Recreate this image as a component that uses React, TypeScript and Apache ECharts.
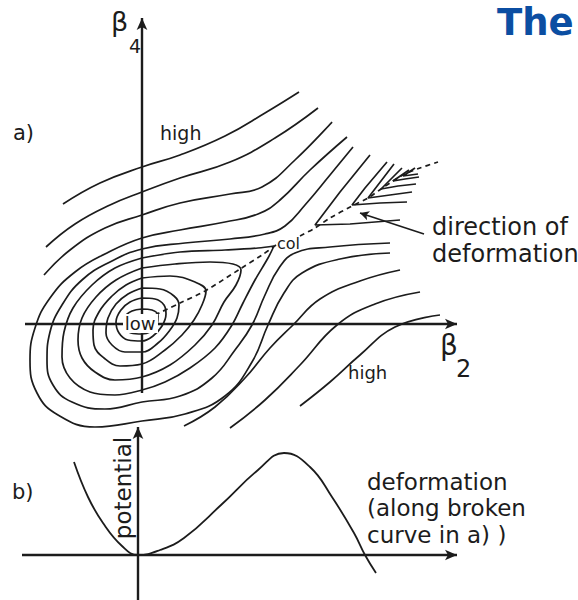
import { useEffect, useRef } from 'react';
import * as echarts from 'echarts';

type Pt = [number, number];

const INK = '#1c1c1c';
const TITLE_BLUE = '#0b4ea2';
const FONT = 'DejaVu Sans, Liberation Sans, sans-serif';

// ---------- panel a: potential-energy surface in the (β2, β4) plane ----------
// Axis extents (β2 along x, β4 along y)
const beta2AxisRange: Pt = [-11.7, 31.5];
const beta4AxisRange: Pt = [-6.9, 30.6];

// Contours on the high (upper-left) side of the valley
const contourA1: Pt[] = [[-7.9, 12.0], [-4.2, 14.1], [0, 15.7], [3.8, 16.9], [8.3, 18.8], [12.3, 21.1], [15.7, 23.2]];
const contourA2: Pt[] = [[-9.6, 7.7], [-6.7, 10.0], [-3.2, 11.9], [0, 13.2], [3.8, 14.6], [8.8, 16.2], [13.3, 18.6], [17.6, 21.6]];
const contourA3: Pt[] = [[-9.8, 4.9], [-7.2, 7.4], [-3.7, 9.6], [0, 10.9], [3.8, 12.1], [8.8, 13.0], [12.0, 13.7], [15.3, 16.4], [19.0, 20.2]];

// Open contours above the col level, wrapping round the minimum
const contourU1: Pt[] = [
  [20.5, 18.7], [16.8, 15.4], [13.8, 12.4], [11.6, 11.0], [8.3, 10.2], [3.8, 9.4], [0, 8.6],
  [-3.5, 7.1], [-6.7, 5.2], [-9.2, 2.6], [-10.7, -0.4], [-11.2, -3.6], [-10.5, -6.9], [-8.4, -9.1],
  [-4.7, -10.3], [0, -9.7], [4.3, -9.0], [8.3, -7.2], [11.0, -3.8], [12.6, -0.1], [14.2, 3.1],
  [16.0, 5.1], [19.8, 6.5], [24.8, 7.1],
];
const contourU2: Pt[] = [
  [21.1, 17.7], [18.8, 14.9], [16.3, 11.9], [14.3, 9.8], [12.3, 9.0], [8.8, 8.5], [4.3, 8.1], [0, 7.5],
  [-3.2, 6.2], [-6.0, 4.4], [-8.0, 1.9], [-9.2, -0.8], [-9.5, -3.6], [-8.9, -6.1], [-7.0, -7.8],
  [-3.7, -8.5], [0, -7.8], [3.8, -7.2], [7.0, -5.4], [9.3, -2.6], [11.0, -0.1], [12.3, 2.9],
  [13.7, 5.6], [15.3, 7.1], [18.8, 7.7], [24.8, 8.1],
];

// Closed contours around the minimum ("low"), the outermost reaching the col
const loopCol: Pt[] = [
  [0, 6.6], [3.8, 7.2], [8.3, 7.4], [11.6, 7.6], [13.2, 7.8], [12.6, 6.6], [11.3, 4.4], [10.1, 2.1],
  [9.0, -0.1], [7.3, -2.4], [4.8, -4.4], [2.3, -5.8], [0, -6.6], [-2.7, -7.1], [-5.2, -6.8],
  [-7.2, -5.4], [-8.0, -3.3], [-7.8, -0.8], [-6.9, 1.6], [-5.0, 3.9], [-2.7, 5.6], [0, 6.6],
];
const loop3: Pt[] = [
  [0, 5.6], [3.3, 6.0], [6.8, 6.2], [9.1, 6.0], [9.9, 5.4], [9.4, 3.9], [8.2, 2.2], [7.0, -0.1],
  [5.3, -2.1], [2.8, -4.1], [0, -5.3], [-2.7, -5.6], [-4.7, -4.8], [-6.0, -3.4], [-6.4, -1.6],
  [-6.0, 0.6], [-4.6, 2.7], [-2.6, 4.4], [0, 5.6],
];
const loop4: Pt[] = [
  [0, 4.6], [2.8, 4.8], [5.3, 4.2], [6.4, 3.3], [6.0, 1.9], [5.2, 0.4], [4.0, -1.1], [2.3, -2.6],
  [0, -4.0], [-2.2, -4.2], [-3.8, -3.4], [-4.8, -2.1], [-4.9, -0.6], [-4.3, 1.2], [-3.0, 2.8],
  [-1.6, 3.9], [0, 4.6],
];
const loop5: Pt[] = [
  [0, 3.6], [1.8, 3.5], [3.2, 2.8], [3.7, 1.9], [3.5, 0.6], [2.8, -0.6], [1.6, -1.9], [0, -2.8],
  [-1.7, -2.8], [-3.0, -2.1], [-3.6, -0.9], [-3.4, 0.6], [-2.6, 2.0], [-1.4, 3.0], [0, 3.6],
];
const loop6: Pt[] = [
  [0, 2.6], [1.3, 2.5], [2.2, 1.9], [2.4, 1.0], [2.0, -0.2], [1.1, -1.2], [0, -1.7], [-1.4, -1.6],
  [-2.3, -0.9], [-2.6, 0.2], [-2.1, 1.4], [-1.2, 2.2], [0, 2.6],
];
const loop7: Pt[] = [
  [0, 1.5], [1.0, 1.4], [1.6, 0.8], [1.5, -0.1], [0.8, -0.8], [0, -1.0], [-1.1, -0.9], [-1.8, -0.2],
  [-1.7, 0.7], [-1.0, 1.3], [0, 1.5],
];

// Contours on the high (lower-right) side
const contourB3: Pt[] = [[4.2, -10.2], [7.3, -8.3], [10.3, -5.4], [12.8, -2.4], [15.1, -0.1], [17.8, 2.5], [21.8, 4.3], [25.8, 5.4]];
const contourB4: Pt[] = [[8.8, -10.4], [12.3, -7.6], [15.8, -4.1], [19.5, -0.1], [23.3, 2.0], [27.8, 3.2]];
const contourB5: Pt[] = [[15.8, -8.2], [18.8, -5.8], [21.8, -3.1], [25.3, -0.3], [29.8, 0.9]];

// Contours of the valley beyond the col (chevrons pointing back to it)
const chevron1: Pt[] = [[22.8, 16.9], [19.8, 13.2], [17.3, 9.9], [20.8, 10.0], [25.8, 10.4]];
const chevron2: Pt[] = [[24.5, 16.2], [22.3, 13.6], [21.0, 11.9], [23.8, 12.1], [26.5, 12.2]];
const chevron3: Pt[] = [[25.2, 16.0], [22.6, 12.6], [24.8, 12.9], [27.0, 13.2]];
const chevron4: Pt[] = [[26.0, 15.6], [23.9, 13.5], [25.6, 13.8], [27.4, 14.0]];
const chevron5: Pt[] = [[26.7, 15.4], [25.1, 14.3], [26.3, 14.5], [27.7, 14.7]];
const chevron6: Pt[] = [[27.3, 15.6], [26.1, 14.8], [27.6, 15.0]];

// Deformation path (broken curve): minimum -> col, then col -> fission valley
const pathToCol: Pt[] = [[1.3, 0.9], [3.8, 2.1], [6.3, 3.3], [9.8, 5.5], [12.0, 6.9], [13.4, 7.9]];
const pathBeyondCol: Pt[] = [[15.8, 8.8], [17.3, 9.6], [18.8, 10.6], [21.0, 11.8], [22.6, 12.6], [23.9, 13.5], [25.1, 14.3], [26.3, 15.0], [27.8, 15.6], [29.6, 16.2]];

// Leader from the "direction of deformation" caption
const leaderFrom: Pt = [28.2, 9.0];
const leaderTo: Pt = [21.8, 11.1];

// ---------- panel b: potential along the broken curve ----------
const deformationAxisRange: Pt = [-11.6, 31.9];
const potentialAxisRange: Pt = [-4.5, 12.8];
const deformation = [-6.4, -5.0, -3.5, -1.6, 0, 2.2, 4.6, 8.3, 12.0, 14.6, 17.2, 19.4, 21.6, 22.7, 23.8];
const potential = [9.3, 5.8, 3.2, 0.9, 0, 0.5, 1.7, 5.0, 8.5, 10.2, 8.8, 5.8, 2.2, 0, -1.8];

function contour(data: Pt[], smooth: number | boolean = 0.45) {
  return {
    type: 'line',
    xAxisIndex: 0,
    yAxisIndex: 0,
    data,
    smooth,
    symbol: 'none',
    showSymbol: false,
    silent: true,
    lineStyle: { color: INK, width: 1.7 },
    z: 2,
  };
}

function arrowAxes(gridIndex: number, segments: [Pt, Pt][], width: number, size: number[]) {
  return {
    type: 'line',
    xAxisIndex: gridIndex,
    yAxisIndex: gridIndex,
    data: [segments[0][0]],
    symbol: 'none',
    showSymbol: false,
    silent: true,
    lineStyle: { opacity: 0 },
    z: 3,
    markLine: {
      silent: true,
      symbol: ['none', 'arrow'],
      symbolSize: size,
      label: { show: false },
      emphasis: { disabled: true },
      lineStyle: { color: INK, width, type: 'solid' },
      data: segments.map(([a, b]) => [{ coord: a }, { coord: b }]),
    },
  };
}

function label(text: string, x: number, y: number, fontSize: number, extra: Record<string, unknown> = {}, rotation = 0) {
  return {
    type: 'text',
    x,
    y,
    rotation,
    z: 100,
    silent: true,
    style: {
      text,
      fill: INK,
      fontSize,
      fontFamily: FONT,
      align: 'left',
      verticalAlign: 'middle',
      ...extra,
    },
  };
}

function buildOption() {
  const potentialCurve = deformation.map((d, i) => [d, potential[i]]);

  const series: any[] = [
    contour(contourA1),
    contour(contourA2),
    contour(contourA3),
    contour(contourU1),
    contour(contourU2),
    contour(loopCol, 0.35),
    contour(loop3, 0.4),
    contour(loop4, 0.4),
    contour(loop5, 0.4),
    contour(loop6, 0.4),
    contour(loop7, 0.4),
    contour(contourB3),
    contour(contourB4),
    contour(contourB5),
    contour(chevron1, false),
    contour(chevron2, false),
    contour(chevron3, false),
    contour(chevron4, false),
    contour(chevron5, false),
    contour(chevron6, false),
    {
      ...contour(pathToCol, 0.3),
      lineStyle: { color: INK, width: 1.7, type: [5, 4] },
    },
    {
      ...contour(pathBeyondCol, 0.3),
      lineStyle: { color: INK, width: 1.7, type: [5, 4] },
    },
    arrowAxes(0, [
      [[beta2AxisRange[0], 0], [beta2AxisRange[1], 0]],
      [[0, beta4AxisRange[0]], [0, beta4AxisRange[1]]],
    ], 2.4, [8, 12]),
    arrowAxes(0, [[leaderFrom, leaderTo]], 1.6, [7, 9]),
    {
      type: 'line',
      xAxisIndex: 1,
      yAxisIndex: 1,
      data: potentialCurve,
      smooth: 0.45,
      symbol: 'none',
      showSymbol: false,
      silent: true,
      lineStyle: { color: INK, width: 1.8 },
      z: 2,
    },
    arrowAxes(1, [
      [[deformationAxisRange[0], 0], [deformationAxisRange[1], 0]],
      [[0, potentialAxisRange[0]], [0, potentialAxisRange[1]]],
    ], 2.4, [8, 12]),
  ];

  const graphic: any[] = [
    label('The', 497, 22, 37, { fill: TITLE_BLUE, fontWeight: 'bold' }),
    label('β', 111, 21, 27),
    label('4', 129, 46, 19),
    label('β', 440, 345, 28),
    label('2', 456, 369, 24),
    label('a)', 13, 133, 21),
    label('high', 160, 133, 19),
    label('col', 277, 243, 16),
    label('high', 348, 372, 18),
    label('direction of', 432, 227, 24),
    label('deformation', 432, 254, 24),
    {
      type: 'rect',
      z: 99,
      silent: true,
      shape: { x: 123, y: 314, width: 35, height: 19 },
      style: { fill: '#ffffff' },
    },
    label('low', 140, 323, 18, { align: 'center' }),
    label('b)', 12, 492, 21),
    label('potential', 123, 488, 23, { align: 'center' }, Math.PI / 2),
    label('deformation', 367, 482, 23),
    label('(along broken', 367, 508, 23),
    label('curve in a) )', 367, 535, 23),
  ];

  return {
    animation: false,
    backgroundColor: '#ffffff',
    grid: [
      { left: 0, right: 0, top: 0, bottom: 0 },
      { left: 0, right: 0, top: 0, bottom: 0 },
    ],
    xAxis: [
      { type: 'value', gridIndex: 0, min: -14.2, max: 43.6, show: false },
      { type: 'value', gridIndex: 1, min: -13.8, max: 44.0, show: false },
    ],
    yAxis: [
      { type: 'value', gridIndex: 0, min: -27.6, max: 32.4, show: false },
      { type: 'value', gridIndex: 1, min: -4.5, max: 55.5, show: false },
    ],
    series,
    graphic,
  };
}

export default function App() {
  const ref = useRef<HTMLDivElement>(null);
  useEffect(() => {
    if (!ref.current) return;
    const chart = echarts.init(ref.current, null, { renderer: 'svg' });
    chart.setOption(buildOption() as any);
    return () => chart.dispose();
  }, []);
  return (
    <div
      ref={ref}
      style={{ position: 'absolute', left: 0, top: 0, width: 578, height: 600, background: '#ffffff' }}
    />
  );
}
